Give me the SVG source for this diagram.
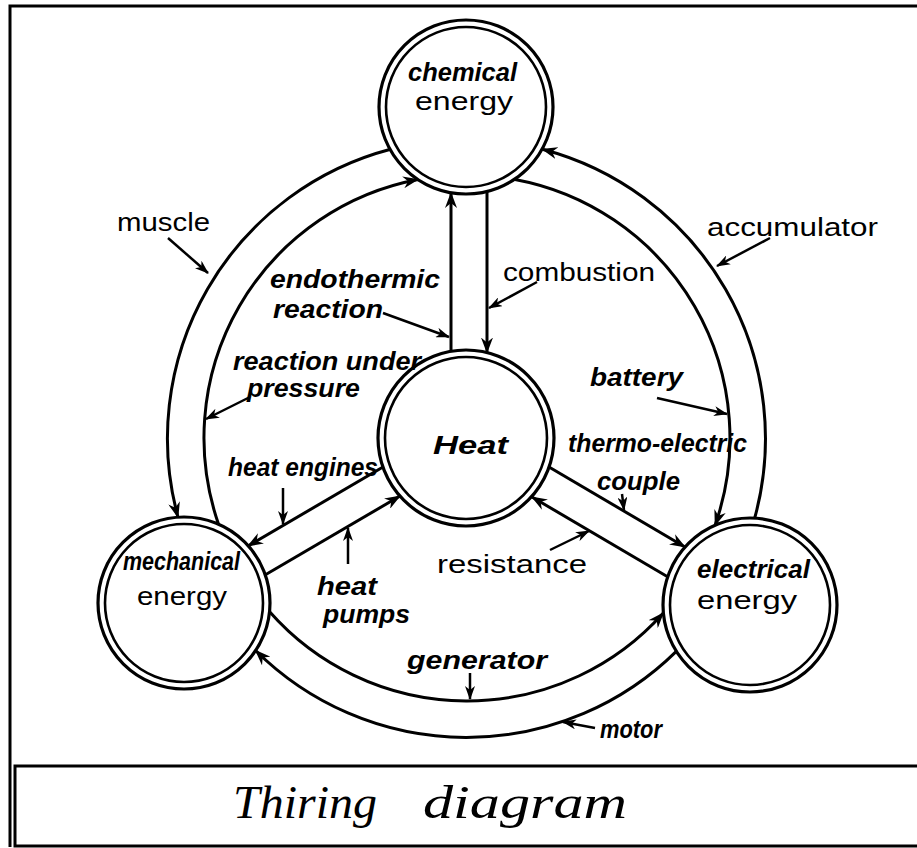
<svg xmlns="http://www.w3.org/2000/svg" width="917" height="848" viewBox="0 0 917 848">
<style>
.frame{fill:none;stroke:#000;stroke-width:3}
.ring{fill:none;stroke:#000;stroke-width:3}
.spoke{fill:none;stroke:#000;stroke-width:3}
.ptr{fill:none;stroke:#000;stroke-width:2.5}
.nodeO{fill:#fff;stroke:#000;stroke-width:3.2}
.nodeI{fill:none;stroke:#000;stroke-width:2.6}
.print{font-family:"Liberation Sans","DejaVu Sans",sans-serif;font-size:26px;fill:#000}
.hand{font-family:"Liberation Sans","DejaVu Sans",sans-serif;font-size:26px;font-weight:bold;font-style:italic;fill:#000}
.title{font-family:"Liberation Serif","DejaVu Serif",serif;font-size:46px;font-style:italic;fill:#000}
</style>
<defs>
<marker id="arr" viewBox="0 0 16 12" refX="15" refY="6" markerWidth="16" markerHeight="12" markerUnits="userSpaceOnUse" orient="auto">
<path d="M0,0 L16,6 L0,12 L5,6 z" fill="#000"/>
</marker>
<marker id="sm" viewBox="0 0 14 10" refX="13" refY="5" markerWidth="14" markerHeight="10" markerUnits="userSpaceOnUse" orient="auto">
<path d="M0,0 L14,5 L0,10 L4,5 z" fill="#000"/>
</marker>
</defs>
<rect width="917" height="848" fill="#fff"/>
<g id="frame">
<path class="frame" d="M10,847 L10,6 L917,6"/>
<path class="frame" d="M917,766 L15,766 L15,846 L917,846"/>
<text class="title" x="233" y="818" textLength="144" lengthAdjust="spacingAndGlyphs">Thiring</text>
<text class="title" x="423" y="818" textLength="204" lengthAdjust="spacingAndGlyphs">diagram</text>
</g>
<g id="connectors">
<path class="ring" d="M390.6,149.3 A299,299 0 0 0 178,517.3" marker-end="url(#arr)"/>
<path class="ring" d="M218.6,524.4 A263,263 0 0 1 418,179.5" marker-end="url(#arr)"/>
<path class="ring" d="M754.7,518 A299,299 0 0 0 542.4,149.3" marker-end="url(#arr)"/>
<path class="ring" d="M515,179.5 A263,263 0 0 1 715.1,525.2" marker-end="url(#arr)"/>
<path class="ring" d="M676.3,651.4 A299,299 0 0 1 255.6,650.5" marker-end="url(#arr)"/>
<path class="ring" d="M269.4,611.6 A263,263 0 0 0 663.3,613" marker-end="url(#arr)"/>
<path class="spoke" d="M451,351 L451,193" marker-end="url(#arr)"/>
<path class="spoke" d="M487,191.5 L487,352.5" marker-end="url(#arr)"/>
<path class="spoke" d="M383,467 L248,546" marker-end="url(#arr)"/>
<path class="spoke" d="M265,575 L400,496" marker-end="url(#arr)"/>
<path class="spoke" d="M549,467 L685,547" marker-end="url(#arr)"/>
<path class="spoke" d="M668,577 L532,497" marker-end="url(#arr)"/>
<path class="ptr" d="M168,238 L208,273" marker-end="url(#sm)"/>
<path class="ptr" d="M770,238 L717,266" marker-end="url(#sm)"/>
<path class="ptr" d="M537,282 L489,308" marker-end="url(#sm)"/>
<path class="ptr" d="M383,313 L449,337" marker-end="url(#sm)"/>
<path class="ptr" d="M250,397 L206,419" marker-end="url(#sm)"/>
<path class="ptr" d="M657,398 L727,414" marker-end="url(#sm)"/>
<path class="ptr" d="M283,488 L283,524" marker-end="url(#sm)"/>
<path class="ptr" d="M348,564 L348,528" marker-end="url(#sm)"/>
<path class="ptr" d="M622,494 L624,510" marker-end="url(#sm)"/>
<path class="ptr" d="M550,550 L589,531" marker-end="url(#sm)"/>
<path class="ptr" d="M470,673 L470,699" marker-end="url(#sm)"/>
<path class="ptr" d="M595,728 L563,722" marker-end="url(#sm)"/>
</g>
<g id="chemical">
<circle class="nodeO" cx="466" cy="107" r="87"/>
<circle class="nodeI" cx="466" cy="107" r="80"/>
<text class="hand" x="408" y="81" textLength="109" lengthAdjust="spacingAndGlyphs">chemical</text>
<text class="print" x="415" y="110" textLength="98" lengthAdjust="spacingAndGlyphs">energy</text>
</g>
<g id="heat">
<circle class="nodeO" cx="466" cy="438" r="88"/>
<circle class="nodeI" cx="466" cy="438" r="81"/>
<text class="hand" x="433" y="454" font-size="42" textLength="75" lengthAdjust="spacingAndGlyphs">Heat</text>
</g>
<g id="mechanical">
<circle class="nodeO" cx="184" cy="603" r="86"/>
<circle class="nodeI" cx="184" cy="603" r="79"/>
<text class="hand" x="123" y="570" textLength="117" lengthAdjust="spacingAndGlyphs">mechanical</text>
<text class="print" x="137" y="605" textLength="90" lengthAdjust="spacingAndGlyphs">energy</text>
</g>
<g id="electrical">
<circle class="nodeO" cx="750" cy="605" r="87"/>
<circle class="nodeI" cx="750" cy="605" r="80"/>
<text class="hand" x="697" y="578" textLength="113" lengthAdjust="spacingAndGlyphs">electrical</text>
<text class="print" x="697" y="609" textLength="100" lengthAdjust="spacingAndGlyphs">energy</text>
</g>
<g id="labels">
<text class="print" x="117" y="231" textLength="93" lengthAdjust="spacingAndGlyphs">muscle</text>
<text class="print" x="707" y="236" textLength="171" lengthAdjust="spacingAndGlyphs">accumulator</text>
<text class="print" x="503" y="281" textLength="152" lengthAdjust="spacingAndGlyphs">combustion</text>
<text class="print" x="437" y="573" textLength="150" lengthAdjust="spacingAndGlyphs">resistance</text>
<text class="hand" x="270" y="288" textLength="170" lengthAdjust="spacingAndGlyphs">endothermic</text>
<text class="hand" x="273" y="318" textLength="110" lengthAdjust="spacingAndGlyphs">reaction</text>
<text class="hand" x="233" y="370" textLength="188" lengthAdjust="spacingAndGlyphs">reaction under</text>
<text class="hand" x="247" y="397" textLength="113" lengthAdjust="spacingAndGlyphs">pressure</text>
<text class="hand" x="590" y="386" textLength="93" lengthAdjust="spacingAndGlyphs">battery</text>
<text class="hand" x="228" y="476" textLength="150" lengthAdjust="spacingAndGlyphs">heat engines</text>
<text class="hand" x="317" y="595" textLength="60" lengthAdjust="spacingAndGlyphs">heat</text>
<text class="hand" x="323" y="623" textLength="87" lengthAdjust="spacingAndGlyphs">pumps</text>
<text class="hand" x="568" y="452" textLength="179" lengthAdjust="spacingAndGlyphs">thermo-electric</text>
<text class="hand" x="597" y="490" textLength="83" lengthAdjust="spacingAndGlyphs">couple</text>
<text class="hand" x="407" y="669" textLength="140" lengthAdjust="spacingAndGlyphs">generator</text>
<text class="hand" x="600" y="738" textLength="62" lengthAdjust="spacingAndGlyphs">motor</text>
</g>
</svg>
